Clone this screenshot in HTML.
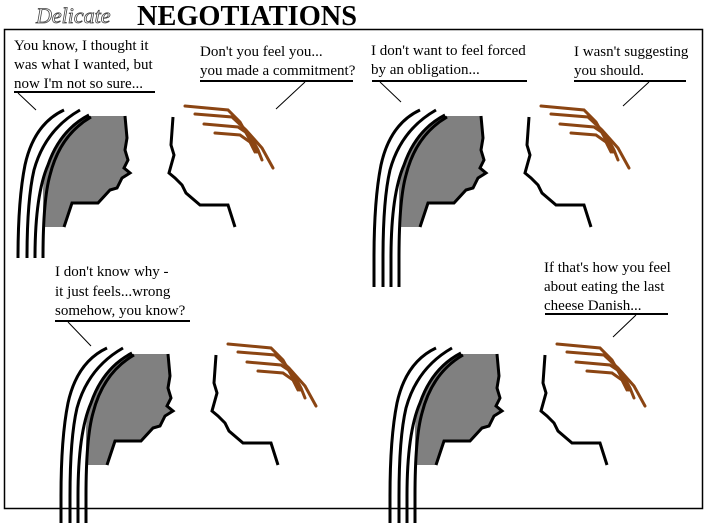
<!DOCTYPE html>
<html><head><meta charset="utf-8"><style>
html,body{margin:0;padding:0;background:#fff;}
svg{display:block}
text{font-family:"Liberation Serif",serif;font-size:15px;fill:#000}
</style></head><body>
<svg width="707" height="529" viewBox="0 0 707 529" xmlns="http://www.w3.org/2000/svg">
<defs>
<g id="p1">
  <path d="M90,116 L125,116 L127,138 L125,150 L128,160 L124,168 L130,173 L122,178 L117,188 L110,190 L98,203 L72,203 L68,215 L64,227 L43,227 L43,190 Q45,140 90,116 Z" fill="#808080"/>
  <path d="M125,116 L127,138 L125,150 L128,160 L124,168 L130,173 L122,178 L117,188 L110,190 L98,203 L72,203 L68,215 L64,227" fill="none" stroke="#000" stroke-width="3"/>
  <g fill="none" stroke="#000" stroke-width="3">
    <path d="M64,110 Q34,124 25,165 Q18,200 18,258"/>
    <path d="M80,110 Q45,130 34,170 Q27,200 27,258"/>
    <path d="M89,115 Q60,130 48,165 Q35,195 35,258"/>
    <path d="M91,117 Q60,135 50,175 Q43,200 43,258"/>
    <path d="M173,117 L171,145 L174,155 L169,173 L175,178 L182,185 L186,193 L200,205 L228,205 L235,227"/>
  </g>
  <g fill="none" stroke="#8B4513" stroke-width="3" stroke-linecap="round">
    <path d="M185,106 L228,110 L240,122 L250,140 L257,152"/>
    <path d="M195,114 L232,117 L246,130 L262,148 L273,168"/>
    <path d="M204,124 L238,127 L250,135 L258,150 L262,160"/>
    <path d="M215,133 L240,135 L250,142 L255,152"/>
  </g>
</g>
</defs>
<rect x="4.5" y="29.5" width="698" height="479" fill="none" stroke="#000" stroke-width="1.5"/>
<text x="36" y="23" style="font-family:'Liberation Serif',serif;font-style:italic;font-size:22px;fill:#fff;stroke:#444;stroke-width:0.8">Delicate</text>
<text x="137" y="25" textLength="220" lengthAdjust="spacingAndGlyphs" style="font-family:'Liberation Serif',serif;font-weight:bold;font-size:29px;">NEGOTIATIONS</text>

<use href="#p1"/>
<use href="#p1" transform="translate(356,0)"/>
<use href="#p1" transform="translate(43,238)"/>
<use href="#p1" transform="translate(372,238)"/>
<g stroke="#000" stroke-width="3">
  <line x1="374" y1="257" x2="374" y2="287"/><line x1="383" y1="257" x2="383" y2="287"/><line x1="391" y1="257" x2="391" y2="287"/><line x1="399" y1="257" x2="399" y2="287"/>
  <line x1="61" y1="495" x2="61" y2="523"/><line x1="70" y1="495" x2="70" y2="523"/><line x1="78" y1="495" x2="78" y2="523"/><line x1="86" y1="495" x2="86" y2="523"/>
  <line x1="390" y1="495" x2="390" y2="523"/><line x1="399" y1="495" x2="399" y2="523"/><line x1="407" y1="495" x2="407" y2="523"/><line x1="415" y1="495" x2="415" y2="523"/>
</g>

<text x="14" y="50">You know, I thought it</text>
<text x="14" y="69">was what I wanted, but</text>
<text x="14" y="88">now I'm not so sure...</text>
<g stroke="#000" fill="none">
<line x1="14" y1="92" x2="155" y2="92" stroke-width="2"/>
<line x1="18" y1="93" x2="36" y2="110"/>
</g>
<text x="200" y="56">Don't you feel you...</text>
<text x="200" y="75">you made a commitment?</text>
<g stroke="#000" fill="none">
<line x1="200" y1="81" x2="353" y2="81" stroke-width="2"/>
<line x1="305" y1="82" x2="276" y2="109"/>
</g>
<text x="371" y="55">I don't want to feel forced</text>
<text x="371" y="74">by an obligation...</text>
<g stroke="#000" fill="none">
<line x1="372" y1="81" x2="527" y2="81" stroke-width="2"/>
<line x1="380" y1="82" x2="401" y2="102"/>
</g>
<text x="574" y="56">I wasn't suggesting</text>
<text x="574" y="75">you should.</text>
<g stroke="#000" fill="none">
<line x1="574" y1="81" x2="686" y2="81" stroke-width="2"/>
<line x1="649" y1="82" x2="623" y2="106"/>
</g>
<text x="55" y="276">I don't know why -</text>
<text x="55" y="296">it just feels...wrong</text>
<text x="55" y="315">somehow, you know?</text>
<g stroke="#000" fill="none">
<line x1="55" y1="321" x2="190" y2="321" stroke-width="2"/>
<line x1="68" y1="322" x2="91" y2="346"/>
</g>
<text x="544" y="272">If that's how you feel</text>
<text x="544" y="291">about eating the last</text>
<text x="544" y="310">cheese Danish...</text>
<g stroke="#000" fill="none">
<line x1="545" y1="314" x2="668" y2="314" stroke-width="2"/>
<line x1="636" y1="315" x2="613" y2="337"/>
</g>
</svg>
</body></html>
